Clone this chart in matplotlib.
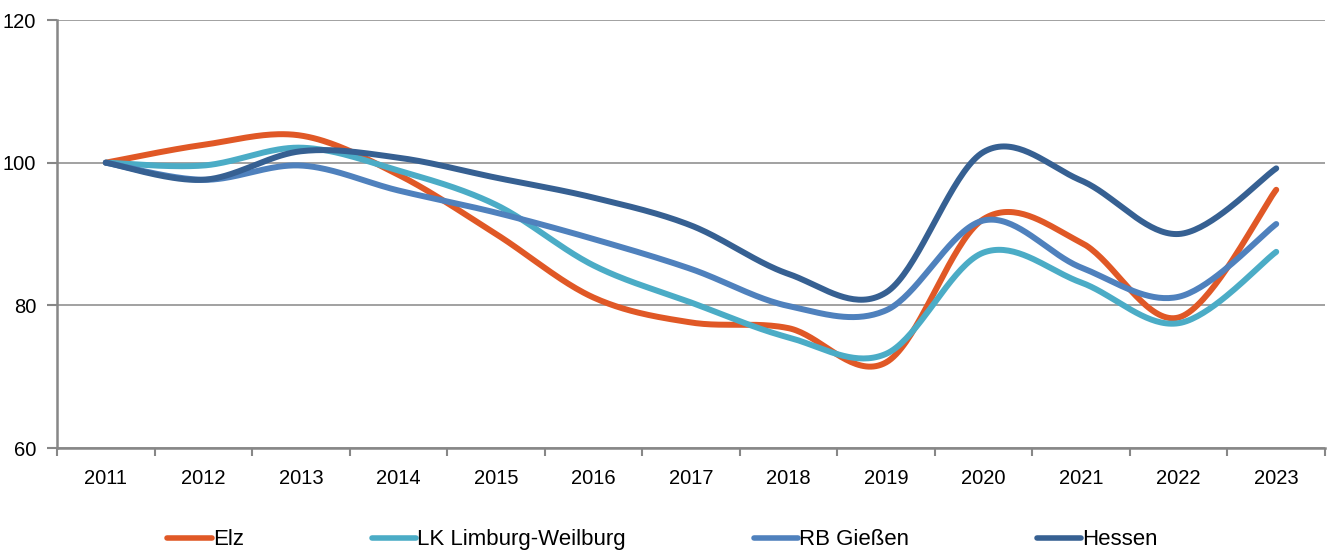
import numpy as np
import matplotlib
matplotlib.use("Agg")
import matplotlib.pyplot as plt

plt.rcParams["font.family"] = ["Liberation Sans", "DejaVu Sans"]

years = ["2011", "2012", "2013", "2014", "2015", "2016", "2017",
         "2018", "2019", "2020", "2021", "2022", "2023"]

elz = [100, 102.5, 103.8, 98.3, 90.0, 81.1, 77.6, 76.8, 72.0, 92.1, 88.8, 78.3, 96.2]
limburg_weilburg = [100, 99.6, 102.1, 98.9, 94.1, 85.6, 80.4, 75.5, 73.2, 87.4, 83.2, 77.5, 87.5]
rb_giessen = [100, 97.6, 99.6, 96.1, 93.0, 89.3, 85.1, 79.9, 79.3, 91.9, 85.3, 81.2, 91.4]
hessen = [100, 97.6, 101.6, 100.7, 97.9, 95.1, 91.2, 84.4, 81.8, 101.5, 97.5, 90.0, 99.2]

series_names = ["Elz", "LK Limburg-Weilburg", "RB Gießen", "Hessen"]
series_values = [elz, limburg_weilburg, rb_giessen, hessen]
colors = ["#E05826", "#4BACC6", "#4F81BD", "#366092"]


def smooth(xs, ys, n=40):
    """Cubic Bezier smoothing through every point (Catmull-Rom style)."""
    p = np.column_stack([xs, ys]).astype(float)
    m = len(p)
    out = []
    t = np.linspace(0, 1, n)[:, None]
    for i in range(m - 1):
        p0 = p[i]
        p3 = p[i + 1]
        prev = p[i - 1] if i > 0 else p[i]
        nxt = p[i + 2] if i + 2 < m else p[i + 1]
        c1 = p0 + (p3 - prev) / 6.0
        c2 = p3 - (nxt - p0) / 6.0
        seg = ((1 - t) ** 3) * p0 + 3 * ((1 - t) ** 2) * t * c1 \
            + 3 * (1 - t) * t ** 2 * c2 + t ** 3 * p3
        out.append(seg if i == 0 else seg[1:])
    s = np.vstack(out)
    return s[:, 0], s[:, 1]


fig = plt.figure(figsize=(13.27, 5.56), dpi=100)
ax = fig.add_axes([57 / 1327, 1 - 448 / 556, 1268 / 1327, 428 / 556])

x = np.arange(len(years))
for name, vals, col in zip(series_names, series_values, colors):
    sx, sy = smooth(x, vals)
    ax.plot(sx, sy, color=col, lw=4.3, solid_capstyle="round",
            solid_joinstyle="round", label=name)

grid_col = "#878787"
ax.set_xlim(-0.5, len(years) - 0.5)
ax.set_ylim(60, 120)
ax.set_yticks([60, 80, 100, 120])
ax.yaxis.grid(True, color=grid_col, lw=1.1)
ax.set_axisbelow(True)

for side in ("top", "right"):
    ax.spines[side].set_visible(False)
for side in ("left", "bottom"):
    ax.spines[side].set_color(grid_col)
    ax.spines[side].set_linewidth(1.8)

ax.set_xticks(x)
ax.set_xticklabels(years)
ax.set_xticks(np.arange(-0.5, len(years), 1.0), minor=True)
ax.tick_params(axis="x", which="major", length=0, pad=15, labelsize=14.5)
ax.tick_params(axis="x", which="minor", length=6, width=1.5, color=grid_col,
               direction="out")
ax.tick_params(axis="y", length=7, width=1.5, color=grid_col, pad=8,
               labelsize=14.5)

leg = fig.legend(loc="center", bbox_to_anchor=(0.4993, 0.029), ncol=4,
                 frameon=False, fontsize=16, handlelength=2.0,
                 handletextpad=0.05, columnspacing=5.75, borderaxespad=0)
for line in leg.get_lines():
    line.set_linewidth(4)
    line.set_solid_capstyle("round")

fig.savefig("out.png", dpi=100)
